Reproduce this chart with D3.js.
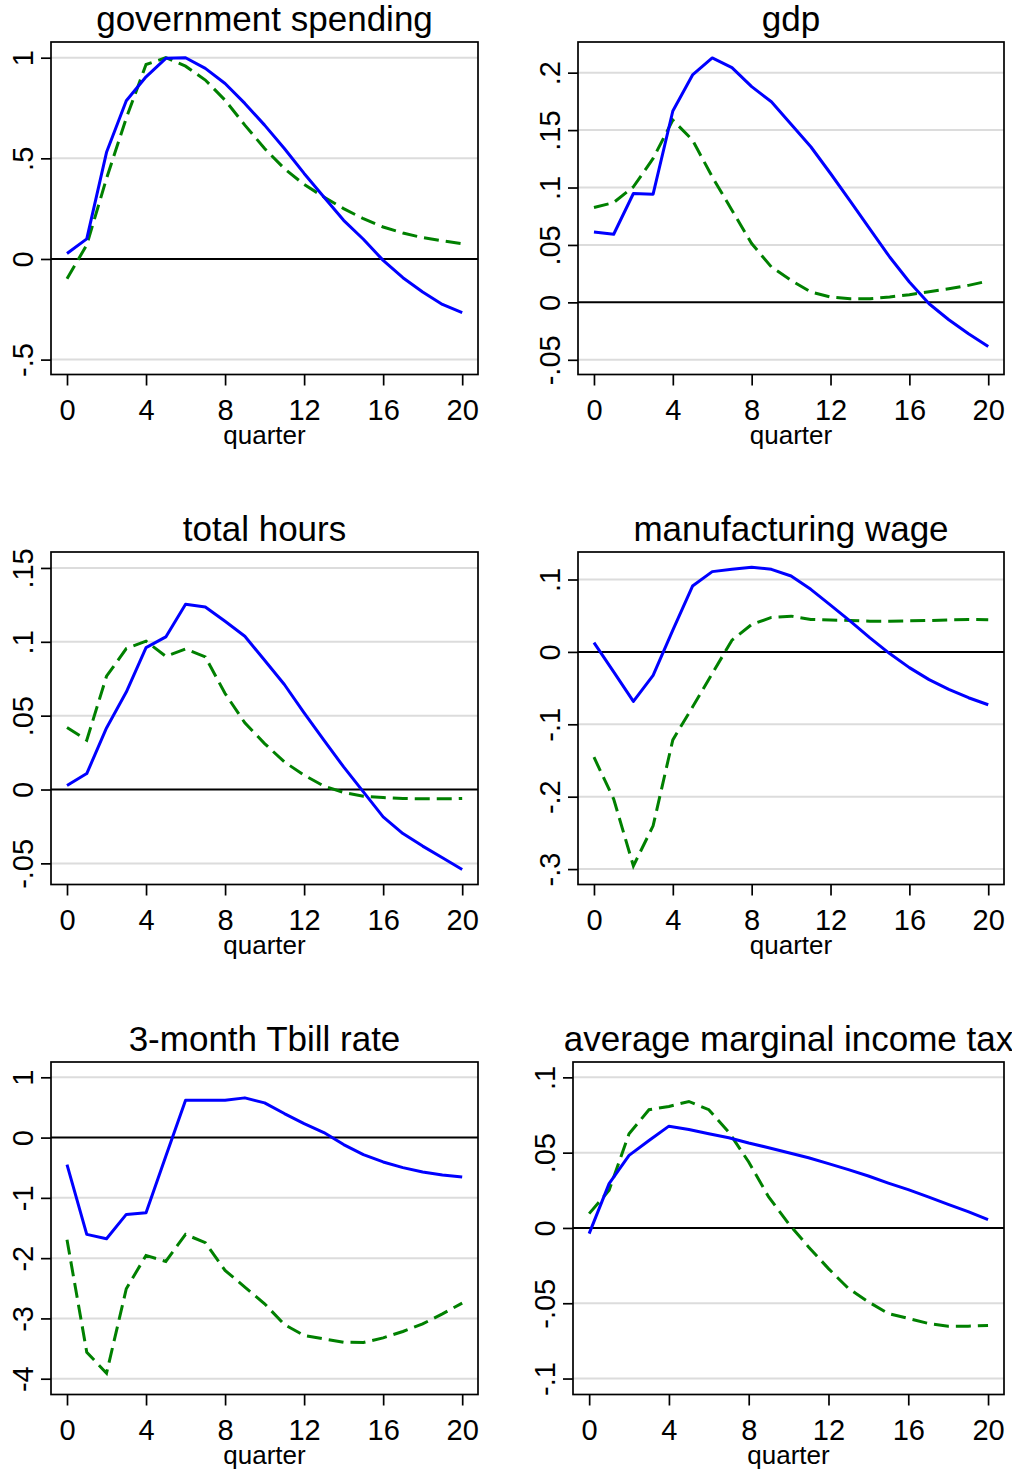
<!DOCTYPE html>
<html>
<head>
<meta charset="utf-8">
<script src="https://cdn.jsdelivr.net/npm/d3@7"></script>
<style>
  html, body { margin: 0; padding: 0; background: #fff; }
  svg { display: block; }
  text { font-family: "Liberation Sans", Arial, Helvetica, sans-serif; fill: #000; }
</style>
</head>
<body>
<script>
// ---------------- DATA ----------------
const quarters = [0,1,2,3,4,5,6,7,8,9,10,11,12,13,14,15,16,17,18,19,20];
const xTicks = [0,4,8,12,16,20];

const titles = ["government spending","gdp","total hours","manufacturing wage","3-month Tbill rate","average marginal income tax"];

const govBlue  = [0.027,0.10,0.53,0.786,0.905,0.997,1.0,0.947,0.872,0.773,0.665,0.549,0.425,0.308,0.192,0.098,-0.007,-0.093,-0.164,-0.226,-0.267];
const govGreen = [-0.098,0.07,0.40,0.70,0.966,1.0,0.958,0.889,0.789,0.665,0.549,0.449,0.37,0.308,0.25,0.20,0.159,0.129,0.106,0.09,0.076];

const gdpBlue  = [0.0613,0.0593,0.0948,0.0942,0.1666,0.198,0.2128,0.2044,0.1878,0.1747,0.155,0.1355,0.1122,0.0881,0.0637,0.0395,0.0177,-0.0012,-0.0151,-0.0273,-0.0384];
const gdpGreen = [0.0826,0.0869,0.1006,0.1253,0.1587,0.1413,0.1093,0.0802,0.0512,0.0308,0.0192,0.009,0.0047,0.0032,0.0032,0.0047,0.0067,0.0093,0.0119,0.0148,0.0186];

const hoursBlue  = [0.0027,0.0108,0.0417,0.066,0.0961,0.1033,0.1254,0.1236,0.1139,0.1038,0.0875,0.0711,0.0519,0.0334,0.0153,-0.0016,-0.0185,-0.0298,-0.0383,-0.0462,-0.0541];
const hoursGreen = [0.042,0.0334,0.0767,0.0954,0.1004,0.0902,0.0952,0.0898,0.065,0.0451,0.0311,0.0187,0.0097,0.0023,-0.002,-0.0045,-0.0054,-0.0061,-0.0063,-0.0063,-0.0061];

const wageBlue  = [0.0129,-0.0277,-0.0684,-0.0323,0.030,0.091,0.1109,0.1141,0.1169,0.1141,0.1049,0.0864,0.0647,0.0425,0.0194,-0.0023,-0.0217,-0.0383,-0.0517,-0.0633,-0.073];
const wageGreen = [-0.1455,-0.2032,-0.2956,-0.2402,-0.1215,-0.0762,-0.030,0.0162,0.0379,0.0476,0.0494,0.0448,0.0439,0.0434,0.0425,0.0425,0.043,0.0434,0.0443,0.0448,0.0443];

const tbillBlue  = [-0.449,-1.606,-1.678,-1.274,-1.246,-0.31,0.62,0.62,0.62,0.659,0.576,0.399,0.233,0.083,-0.116,-0.282,-0.404,-0.498,-0.570,-0.620,-0.653];
const tbillGreen = [-1.694,-3.56,-3.909,-2.508,-1.955,-2.054,-1.606,-1.744,-2.204,-2.481,-2.757,-3.10,-3.283,-3.339,-3.394,-3.40,-3.322,-3.217,-3.09,-2.924,-2.746];

const taxBlue  = [-0.0038,0.0294,0.0482,0.0581,0.0676,0.0654,0.0625,0.0599,0.0564,0.0533,0.0499,0.0466,0.0427,0.0387,0.0345,0.0298,0.0254,0.0206,0.0157,0.0108,0.0055];
const taxGreen = [0.0095,0.025,0.0625,0.0785,0.0807,0.084,0.0785,0.0636,0.0438,0.0206,0.0029,-0.0126,-0.027,-0.0402,-0.0491,-0.0568,-0.0601,-0.0634,-0.0652,-0.0652,-0.0647];

const govTicks   = [-0.5,0,0.5,1];             const govLabels   = ["-.5","0",".5","1"];
const gdpTicks   = [-0.05,0,0.05,0.1,0.15,0.2]; const gdpLabels   = ["-.05","0",".05",".1",".15",".2"];
const hoursTicks = [-0.05,0,0.05,0.1,0.15];    const hoursLabels = ["-.05","0",".05",".1",".15"];
const wageTicks  = [-0.3,-0.2,-0.1,0,0.1];     const wageLabels  = ["-.3","-.2","-.1","0",".1"];
const tbillTicks = [-4,-3,-2,-1,0,1];          const tbillLabels = ["-4","-3","-2","-1","0","1"];
const taxTicks   = [-0.1,-0.05,0,0.05,0.1];    const taxLabels   = ["-.1","-.05","0",".05",".1"];

// ---------------- LAYOUT ----------------
const panels = [
  {title: titles[0], blue: govBlue,   green: govGreen,   ticks: govTicks,   labels: govLabels,   ydom: [-0.574, 1.078],  left: 51,  right: 478,  row: 0},
  {title: titles[1], blue: gdpBlue,   green: gdpGreen,   ticks: gdpTicks,   labels: gdpLabels,   ydom: [-0.0628, 0.2267], left: 578, right: 1004, row: 0},
  {title: titles[2], blue: hoursBlue, green: hoursGreen, ticks: hoursTicks, labels: hoursLabels, ydom: [-0.0643, 0.1608], left: 51,  right: 478,  row: 1},
  {title: titles[3], blue: wageBlue,  green: wageGreen,  ticks: wageTicks,  labels: wageLabels,  ydom: [-0.3213, 0.138],  left: 578, right: 1004, row: 1},
  {title: titles[4], blue: tbillBlue, green: tbillGreen, ticks: tbillTicks, labels: tbillLabels, ydom: [-4.262, 1.254],   left: 51,  right: 478,  row: 2},
  {title: titles[5], blue: taxBlue,   green: taxGreen,   ticks: taxTicks,   labels: taxLabels,   ydom: [-0.1106, 0.1102], left: 573, right: 1004, row: 2}
];

const svg = d3.select("body").append("svg")
  .attr("width", 1012).attr("height", 1471);

panels.forEach(p => {
  const top = 42 + p.row * 510;
  const bottom = 374.5 + p.row * 510;
  const x = d3.scaleLinear().domain([-0.81, 20.8]).range([p.left, p.right]);
  const y = d3.scaleLinear().domain(p.ydom).range([bottom, top]);
  const g = svg.append("g");

  // gridlines
  g.selectAll("line.grid").data(p.ticks.filter(t => t !== 0)).join("line")
    .attr("class", "grid")
    .attr("x1", p.left).attr("x2", p.right)
    .attr("y1", d => y(d)).attr("y2", d => y(d))
    .attr("stroke", "#dcdcdc").attr("stroke-width", 2);

  // zero line
  g.append("line")
    .attr("x1", p.left).attr("x2", p.right)
    .attr("y1", y(0)).attr("y2", y(0))
    .attr("stroke", "#000").attr("stroke-width", 2);

  const line = d3.line().x((d, i) => x(quarters[i])).y(d => y(d));

  g.append("path").datum(p.green)
    .attr("d", line).attr("fill", "none")
    .attr("stroke", "#008000").attr("stroke-width", 3)
    .attr("stroke-dasharray", "15,7");

  g.append("path").datum(p.blue)
    .attr("d", line).attr("fill", "none")
    .attr("stroke", "#0000ff").attr("stroke-width", 3)
    .attr("stroke-linejoin", "round");

  // box
  g.append("rect")
    .attr("x", p.left).attr("y", top)
    .attr("width", p.right - p.left).attr("height", bottom - top)
    .attr("fill", "none").attr("stroke", "#000").attr("stroke-width", 1.7);

  // y axis
  const ya = g.append("g").attr("transform", `translate(${p.left},0)`)
    .call(d3.axisLeft(y).tickValues(p.ticks).tickFormat((d, i) => p.labels[i]).tickSize(10));
  ya.select(".domain").remove();
  ya.selectAll(".tick line").attr("stroke", "#000").attr("stroke-width", 1.7);
  ya.selectAll(".tick text")
    .attr("x", null).attr("dy", null)
    .attr("transform", "translate(-18,0) rotate(-90)")
    .attr("text-anchor", "middle")
    .style("font-size", "29px")
    .style("font-family", "'Liberation Sans', Arial, sans-serif")
    .attr("fill", "#000");

  // x axis
  const xa = g.append("g").attr("transform", `translate(0,${bottom})`)
    .call(d3.axisBottom(x).tickValues(xTicks).tickFormat(d3.format("d")).tickSize(11));
  xa.select(".domain").remove();
  xa.selectAll(".tick line").attr("stroke", "#000").attr("stroke-width", 1.7);
  xa.selectAll(".tick text")
    .attr("y", 45.5).attr("dy", null)
    .style("font-size", "29px")
    .style("font-family", "'Liberation Sans', Arial, sans-serif")
    .attr("fill", "#000");

  // x axis title
  g.append("text")
    .attr("x", (p.left + p.right) / 2).attr("y", bottom + 69)
    .attr("text-anchor", "middle")
    .style("font-size", "26px")
    .text("quarter");

  // panel title
  g.append("text")
    .attr("x", (p.left + p.right) / 2).attr("y", top - 11)
    .attr("text-anchor", "middle")
    .style("font-size", "35px")
    .text(p.title);
});
</script>
</body>
</html>
